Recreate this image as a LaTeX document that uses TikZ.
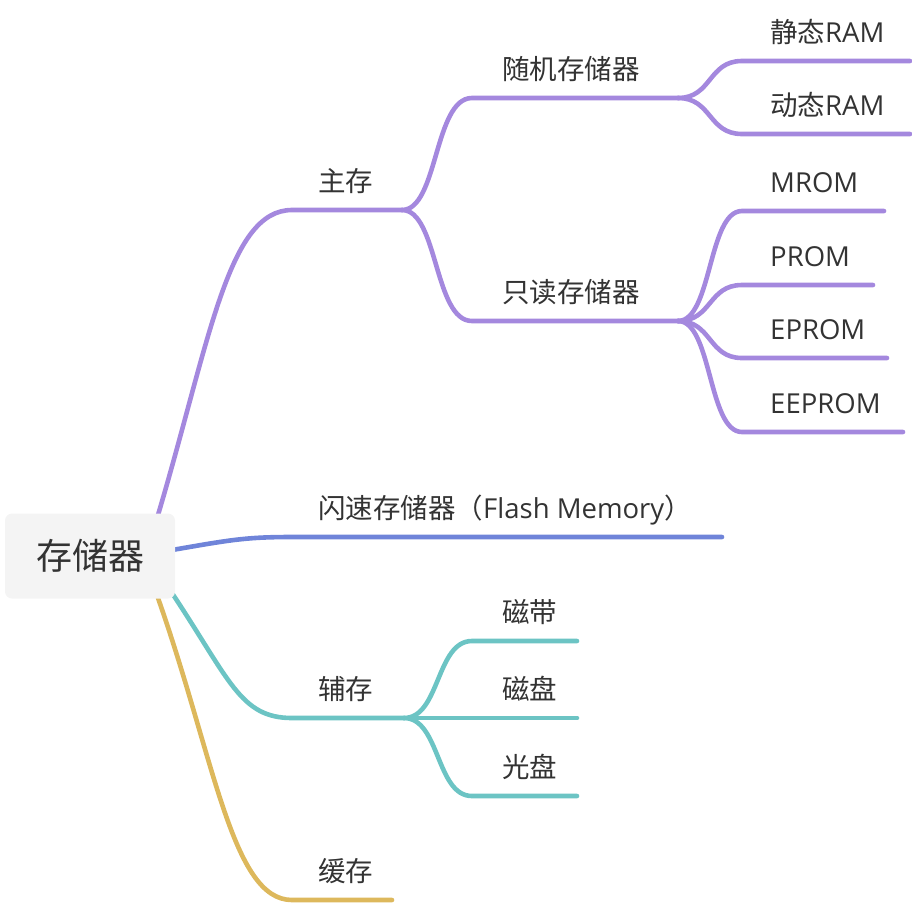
\documentclass[tikz,border=0pt]{standalone}
\usepackage{fontspec}
\setmainfont{Open Sans}
\newfontfamily\cjk{Noto Sans CJK SC}
\usetikzlibrary{calc}
\definecolor{cpur}{HTML}{A488DE}
\definecolor{cblu}{HTML}{6F84D9}
\definecolor{ctea}{HTML}{6CC4C4}
\definecolor{cyel}{HTML}{DDB85C}
\definecolor{ctxt}{HTML}{333333}
\definecolor{croot}{HTML}{F4F4F4}
\tikzset{
  br/.style={line width=4.6pt, line cap=round},
  pur/.style={br, draw=cpur},
  blu/.style={br, draw=cblu},
  tea/.style={br, draw=ctea},
  yel/.style={br, draw=cyel},
  lbl/.style={anchor=base west, inner sep=0pt, text=ctxt, font=\fontsize{27.5}{32}\selectfont},
  rootbox/.style={fill=croot, rounded corners=7pt, minimum width=170pt, minimum height=85pt, inner sep=0pt, text=ctxt, font=\fontsize{36}{40}\selectfont\cjk}
}
\begin{document}
\begin{tikzpicture}[x=1pt,y=-1pt]
\useasboundingbox (0,0) rectangle (912,906);
% coordinates
\coordinate (rA) at (158,515);
\coordinate (rB) at (172,550);
\coordinate (rC) at (170,590);
\coordinate (rD) at (158,598);
\coordinate (zs) at (292,210); \coordinate (ze) at (402,210);
\coordinate (fs) at (292,537); \coordinate (fe) at (722,537);
\coordinate (fcs) at (292,718); \coordinate (fce) at (404,718);
\coordinate (hs) at (292,900); \coordinate (he) at (392,900);
\coordinate (ss) at (472,98); \coordinate (se) at (678,98);
\coordinate (ds) at (472,321); \coordinate (de) at (678,321);
\coordinate (s1s) at (742,61); \coordinate (s1e) at (910,61);
\coordinate (s2s) at (742,134); \coordinate (s2e) at (910,134);
\coordinate (m1s) at (742,211); \coordinate (m1e) at (884,211);
\coordinate (m2s) at (742,285); \coordinate (m2e) at (873,285);
\coordinate (m3s) at (742,358); \coordinate (m3e) at (887,358);
\coordinate (m4s) at (742,432); \coordinate (m4e) at (903,432);
\coordinate (c1s) at (472,641); \coordinate (c1e) at (577,641);
\coordinate (c2s) at (472,718); \coordinate (c2e) at (577,718);
\coordinate (c3s) at (472,796); \coordinate (c3e) at (577,796);
% main connectors
\draw[pur] (rA) .. controls (210,340) and (228,210) .. (zs) -- (ze);
\draw[blu] (rB) .. controls (230,540) and (245,537) .. (fs) -- (fe);
\draw[tea] (rC) .. controls (230,680) and (240,718) .. (fcs) -- (fce);
\draw[yel] (rD) .. controls (215,760) and (232,900) .. (hs) -- (he);
% second level
\draw[pur] (ze) .. controls (438,210) and (434,98) .. (ss) -- (se);
\draw[pur] (ze) .. controls (438,210) and (434,321) .. (ds) -- (de);
\draw[pur] (se) .. controls (712,98) and (708,61) .. (s1s) -- (s1e);
\draw[pur] (se) .. controls (712,98) and (708,134) .. (s2s) -- (s2e);
\draw[pur] (de) .. controls (712,321) and (708,211) .. (m1s) -- (m1e);
\draw[pur] (de) .. controls (712,321) and (708,285) .. (m2s) -- (m2e);
\draw[pur] (de) .. controls (712,321) and (708,358) .. (m3s) -- (m3e);
\draw[pur] (de) .. controls (712,321) and (708,432) .. (m4s) -- (m4e);
\draw[tea] (fce) .. controls (440,718) and (436,641) .. (c1s) -- (c1e);
\draw[tea] (fce) -- (c2s) -- (c2e);
\draw[tea] (fce) .. controls (440,718) and (436,796) .. (c3s) -- (c3e);
% root
\node[rootbox] (root) at (90,556) {存储器};
% labels
\node[lbl] (tz) at ($(zs)+(26,-19)$) {\cjk 主存};
\node[lbl] (tf) at ($(fs)+(26,-19)$) {{\cjk 闪速存储器（}Flash Memory{\cjk ）}};
\node[lbl] (tfc) at ($(fcs)+(26,-19)$) {\cjk 辅存};
\node[lbl] (th) at ($(hs)+(26,-19)$) {\cjk 缓存};
\node[lbl] (tss) at ($(ss)+(30,-19)$) {\cjk 随机存储器};
\node[lbl] (tds) at ($(ds)+(30,-19)$) {\cjk 只读存储器};
\node[lbl] (ts1) at ($(s1s)+(28,-19)$) {{\cjk 静态}RAM};
\node[lbl] (ts2) at ($(s2s)+(28,-19)$) {{\cjk 动态}RAM};
\node[lbl] (tm1) at ($(m1s)+(28,-19)$) {MROM};
\node[lbl] (tm2) at ($(m2s)+(28,-19)$) {PROM};
\node[lbl] (tm3) at ($(m3s)+(28,-19)$) {EPROM};
\node[lbl] (tm4) at ($(m4s)+(28,-19)$) {EEPROM};
\node[lbl] (tc1) at ($(c1s)+(30,-19)$) {\cjk 磁带};
\node[lbl] (tc2) at ($(c2s)+(30,-19)$) {\cjk 磁盘};
\node[lbl] (tc3) at ($(c3s)+(30,-19)$) {\cjk 光盘};
\end{tikzpicture}
\end{document}
